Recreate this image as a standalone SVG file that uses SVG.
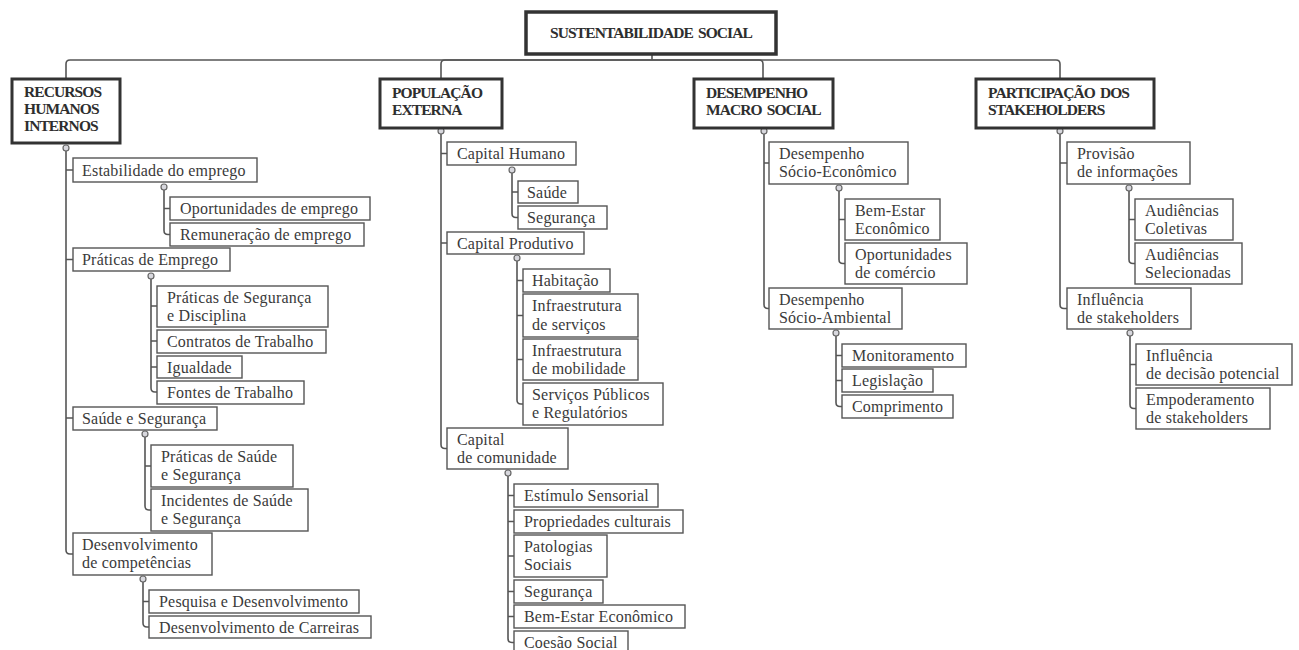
<svg xmlns="http://www.w3.org/2000/svg" width="1299" height="650" viewBox="0 0 1299 650">
  <style>
    .bg { fill: #ffffff; }
    .root { fill: #ffffff; stroke: #333333; stroke-width: 3.5; }
    .cat { fill: #ffffff; stroke: #333333; stroke-width: 3; }
    .box { fill: #ffffff; stroke: #555555; stroke-width: 1.4; }
    .h { font-family: "Liberation Serif", "Times New Roman", serif; font-weight: bold; font-size: 15.5px; letter-spacing: -0.9px; word-spacing: 2px; fill: #2e2e2e; }
    .t { font-family: "Liberation Serif", "Times New Roman", serif; font-size: 16px; letter-spacing: 0.2px; fill: #3a3a3a; }
    .w { fill: none; stroke: #555555; stroke-width: 1.6; }
    .k { fill: #d8d8de; stroke: #666666; stroke-width: 1.2; }
  </style>
  <rect class="bg" x="0" y="0" width="1299" height="650"/>

  <!-- connectors -->
  <g id="connectors">
    <!-- hub to the four branches -->
    <path class="w" d="M652,54 V60"/>
    <path class="w" d="M652,60 H70 Q66,60 66,64 V79"/>
    <path class="w" d="M652,60 H445 Q441,60 441,64 V79"/>
    <path class="w" d="M652,60 H759 Q763,60 763,64 V79"/>
    <path class="w" d="M652,60 H1056 Q1060,60 1060,64 V79"/>

    <!-- Recursos Humanos Internos -->
    <path class="w" d="M66,151 V550 Q66,554 70,554 H73 M66,170 H73 M66,259.5 H73 M66,418 H73"/>
    <path class="w" d="M164,190 V230.5 Q164,234.5 168,234.5 H170 M164,208.5 H170"/>
    <path class="w" d="M151,279 V388 Q151,392 155,392 H157 M151,306 H157 M151,341 H157 M151,367 H157"/>
    <path class="w" d="M145,437 V506 Q145,510 149,510 H151 M145,466 H151"/>
    <path class="w" d="M143,582 V623 Q143,627 147,627 H149 M143,601.5 H149"/>

    <!-- População Externa -->
    <path class="w" d="M441,134 V444.5 Q441,448.5 445,448.5 H447 M441,153.5 H447 M441,243 H447"/>
    <path class="w" d="M512,173 V213.5 Q512,217.5 516,217.5 H518 M512,192 H518"/>
    <path class="w" d="M517,261 V400 Q517,404 521,404 H523 M517,280.5 H523 M517,315.5 H523 M517,359.5 H523"/>
    <path class="w" d="M508,476 V638.5 Q508,642.5 512,642.5 H514 M508,495.5 H514 M508,521.5 H514 M508,556 H514 M508,591.5 H514 M508,616.5 H514"/>

    <!-- Desempenho Macro Social -->
    <path class="w" d="M764,134 V304.5 Q764,308.5 768,308.5 H769 M764,163 H769"/>
    <path class="w" d="M839,191 V259.5 Q839,263.5 843,263.5 H845 M839,219.5 H845"/>
    <path class="w" d="M836,336 V402.5 Q836,406.5 840,406.5 H842 M836,355.5 H842 M836,380.5 H842"/>

    <!-- Participação dos Stakeholders -->
    <path class="w" d="M1060,134 V304.5 Q1060,308.5 1064,308.5 H1067 M1060,163 H1067"/>
    <path class="w" d="M1129,191 V259.5 Q1129,263.5 1133,263.5 H1135 M1129,219.5 H1135"/>
    <path class="w" d="M1130,336 V404.5 Q1130,408.5 1134,408.5 H1136 M1130,364.5 H1136"/>

    <!-- collapse knobs -->
    <circle class="k" cx="66" cy="148" r="3"/>
    <circle class="k" cx="164" cy="187" r="3"/>
    <circle class="k" cx="151" cy="276" r="3"/>
    <circle class="k" cx="145" cy="434" r="3"/>
    <circle class="k" cx="143" cy="579" r="3"/>
    <circle class="k" cx="441" cy="131" r="3"/>
    <circle class="k" cx="512" cy="170" r="3"/>
    <circle class="k" cx="517" cy="258" r="3"/>
    <circle class="k" cx="508" cy="473" r="3"/>
    <circle class="k" cx="764" cy="131" r="3"/>
    <circle class="k" cx="839" cy="188" r="3"/>
    <circle class="k" cx="836" cy="333" r="3"/>
    <circle class="k" cx="1060" cy="131" r="3"/>
    <circle class="k" cx="1129" cy="188" r="3"/>
    <circle class="k" cx="1130" cy="333" r="3"/>
  </g>

  <!-- root -->
  <g id="sustentabilidade-social">
    <rect class="root" x="526" y="12" width="250" height="42"/>
    <text class="h" x="651" y="38" text-anchor="middle">SUSTENTABILIDADE SOCIAL</text>
  </g>

  <!-- branch: Recursos Humanos Internos -->
  <g id="recursos-humanos-internos">
    <rect class="cat" x="12" y="79" width="108" height="64"/>
    <text class="h" x="24" y="97">RECURSOS<tspan x="24" y="114">HUMANOS</tspan><tspan x="24" y="131">INTERNOS</tspan></text>
  </g>
  <g id="estabilidade-do-emprego">
    <rect class="box" x="73" y="158" width="184" height="24"/>
    <text class="t" x="82" y="176">Estabilidade do emprego</text>
  </g>
  <g id="oportunidades-de-emprego">
    <rect class="box" x="170" y="197" width="200" height="23"/>
    <text class="t" x="180" y="214">Oportunidades de emprego</text>
  </g>
  <g id="remuneracao-de-emprego">
    <rect class="box" x="170" y="223" width="194" height="23"/>
    <text class="t" x="180" y="240">Remuneração de emprego</text>
  </g>
  <g id="praticas-de-emprego">
    <rect class="box" x="73" y="248" width="157" height="23"/>
    <text class="t" x="82" y="265">Práticas de Emprego</text>
  </g>
  <g id="praticas-de-seguranca">
    <rect class="box" x="157" y="286" width="171" height="41"/>
    <text class="t" x="167" y="303">Práticas de Segurança<tspan x="167" y="321">e Disciplina</tspan></text>
  </g>
  <g id="contratos-de-trabalho">
    <rect class="box" x="157" y="330" width="169" height="23"/>
    <text class="t" x="167" y="347">Contratos de Trabalho</text>
  </g>
  <g id="igualdade">
    <rect class="box" x="157" y="356" width="85" height="22"/>
    <text class="t" x="167" y="373">Igualdade</text>
  </g>
  <g id="fontes-de-trabalho">
    <rect class="box" x="157" y="381" width="147" height="23"/>
    <text class="t" x="167" y="398">Fontes de Trabalho</text>
  </g>
  <g id="saude-e-seguranca">
    <rect class="box" x="73" y="407" width="144" height="23"/>
    <text class="t" x="82" y="424">Saúde e Segurança</text>
  </g>
  <g id="praticas-de-saude">
    <rect class="box" x="151" y="445" width="142" height="42"/>
    <text class="t" x="161" y="462">Práticas de Saúde<tspan x="161" y="480">e Segurança</tspan></text>
  </g>
  <g id="incidentes-de-saude">
    <rect class="box" x="151" y="489" width="157" height="42"/>
    <text class="t" x="161" y="506">Incidentes de Saúde<tspan x="161" y="524">e Segurança</tspan></text>
  </g>
  <g id="desenvolvimento-de-competencias">
    <rect class="box" x="73" y="533" width="139" height="42"/>
    <text class="t" x="82" y="550">Desenvolvimento<tspan x="82" y="568">de competências</tspan></text>
  </g>
  <g id="pesquisa-e-desenvolvimento">
    <rect class="box" x="149" y="590" width="210" height="23"/>
    <text class="t" x="159" y="607">Pesquisa e Desenvolvimento</text>
  </g>
  <g id="desenvolvimento-de-carreiras">
    <rect class="box" x="149" y="616" width="222" height="22"/>
    <text class="t" x="159" y="633">Desenvolvimento de Carreiras</text>
  </g>

  <!-- branch: População Externa -->
  <g id="populacao-externa">
    <rect class="cat" x="380" y="79" width="122" height="49"/>
    <text class="h" x="392" y="98">POPULAÇÃO<tspan x="392" y="115">EXTERNA</tspan></text>
  </g>
  <g id="capital-humano">
    <rect class="box" x="447" y="142" width="129" height="23"/>
    <text class="t" x="457" y="159">Capital Humano</text>
  </g>
  <g id="saude">
    <rect class="box" x="518" y="181" width="60" height="22"/>
    <text class="t" x="527" y="198">Saúde</text>
  </g>
  <g id="seguranca-1">
    <rect class="box" x="518" y="206" width="89" height="23"/>
    <text class="t" x="527" y="223">Segurança</text>
  </g>
  <g id="capital-produtivo">
    <rect class="box" x="447" y="232" width="137" height="22"/>
    <text class="t" x="457" y="249">Capital Produtivo</text>
  </g>
  <g id="habitacao">
    <rect class="box" x="523" y="269" width="87" height="23"/>
    <text class="t" x="532" y="286">Habitação</text>
  </g>
  <g id="infraestrutura-de-servicos">
    <rect class="box" x="523" y="294" width="115" height="43"/>
    <text class="t" x="532" y="311">Infraestrutura<tspan x="532" y="330">de serviços</tspan></text>
  </g>
  <g id="infraestrutura-de-mobilidade">
    <rect class="box" x="523" y="339" width="115" height="41"/>
    <text class="t" x="532" y="356">Infraestrutura<tspan x="532" y="374">de mobilidade</tspan></text>
  </g>
  <g id="servicos-publicos">
    <rect class="box" x="523" y="383" width="140" height="42"/>
    <text class="t" x="532" y="400">Serviços Públicos<tspan x="532" y="418">e Regulatórios</tspan></text>
  </g>
  <g id="capital-de-comunidade">
    <rect class="box" x="447" y="428" width="121" height="41"/>
    <text class="t" x="457" y="445">Capital<tspan x="457" y="463">de comunidade</tspan></text>
  </g>
  <g id="estimulo-sensorial">
    <rect class="box" x="514" y="484" width="144" height="23"/>
    <text class="t" x="524" y="501">Estímulo Sensorial</text>
  </g>
  <g id="propriedades-culturais">
    <rect class="box" x="514" y="510" width="169" height="23"/>
    <text class="t" x="524" y="527">Propriedades culturais</text>
  </g>
  <g id="patologias-sociais">
    <rect class="box" x="514" y="535" width="93" height="42"/>
    <text class="t" x="524" y="552">Patologias<tspan x="524" y="570">Sociais</tspan></text>
  </g>
  <g id="seguranca-2">
    <rect class="box" x="514" y="580" width="89" height="23"/>
    <text class="t" x="524" y="597">Segurança</text>
  </g>
  <g id="bem-estar-economico-1">
    <rect class="box" x="514" y="605" width="171" height="23"/>
    <text class="t" x="524" y="622">Bem-Estar Econômico</text>
  </g>
  <g id="coesao-social">
    <rect class="box" x="514" y="631" width="114" height="23"/>
    <text class="t" x="524" y="648">Coesão Social</text>
  </g>

  <!-- branch: Desempenho Macro Social -->
  <g id="desempenho-macro-social">
    <rect class="cat" x="694" y="79" width="139" height="49"/>
    <text class="h" x="706" y="98">DESEMPENHO<tspan x="706" y="115">MACRO SOCIAL</tspan></text>
  </g>
  <g id="desempenho-socio-economico">
    <rect class="box" x="769" y="142" width="139" height="42"/>
    <text class="t" x="779" y="159">Desempenho<tspan x="779" y="177">Sócio-Econômico</tspan></text>
  </g>
  <g id="bem-estar-economico-2">
    <rect class="box" x="845" y="199" width="95" height="41"/>
    <text class="t" x="855" y="216">Bem-Estar<tspan x="855" y="234">Econômico</tspan></text>
  </g>
  <g id="oportunidades-de-comercio">
    <rect class="box" x="845" y="243" width="122" height="41"/>
    <text class="t" x="855" y="260">Oportunidades<tspan x="855" y="278">de comércio</tspan></text>
  </g>
  <g id="desempenho-socio-ambiental">
    <rect class="box" x="769" y="288" width="133" height="41"/>
    <text class="t" x="779" y="305">Desempenho<tspan x="779" y="323">Sócio-Ambiental</tspan></text>
  </g>
  <g id="monitoramento">
    <rect class="box" x="842" y="344" width="124" height="23"/>
    <text class="t" x="852" y="361">Monitoramento</text>
  </g>
  <g id="legislacao">
    <rect class="box" x="842" y="369" width="91" height="23"/>
    <text class="t" x="852" y="386">Legislação</text>
  </g>
  <g id="comprimento">
    <rect class="box" x="842" y="395" width="111" height="23"/>
    <text class="t" x="852" y="412">Comprimento</text>
  </g>

  <!-- branch: Participação dos Stakeholders -->
  <g id="participacao-dos-stakeholders">
    <rect class="cat" x="976" y="79" width="178" height="49"/>
    <text class="h" x="988" y="98">PARTICIPAÇÃO DOS<tspan x="988" y="115">STAKEHOLDERS</tspan></text>
  </g>
  <g id="provisao-de-informacoes">
    <rect class="box" x="1067" y="142" width="123" height="42"/>
    <text class="t" x="1077" y="159">Provisão<tspan x="1077" y="177">de informações</tspan></text>
  </g>
  <g id="audiencias-coletivas">
    <rect class="box" x="1135" y="199" width="98" height="41"/>
    <text class="t" x="1145" y="216">Audiências<tspan x="1145" y="234">Coletivas</tspan></text>
  </g>
  <g id="audiencias-selecionadas">
    <rect class="box" x="1135" y="243" width="107" height="41"/>
    <text class="t" x="1145" y="260">Audiências<tspan x="1145" y="278">Selecionadas</tspan></text>
  </g>
  <g id="influencia-de-stakeholders">
    <rect class="box" x="1067" y="288" width="124" height="41"/>
    <text class="t" x="1077" y="305">Influência<tspan x="1077" y="323">de stakeholders</tspan></text>
  </g>
  <g id="influencia-de-decisao-potencial">
    <rect class="box" x="1136" y="344" width="156" height="41"/>
    <text class="t" x="1146" y="361">Influência<tspan x="1146" y="379">de decisão potencial</tspan></text>
  </g>
  <g id="empoderamento-de-stakeholders">
    <rect class="box" x="1136" y="388" width="134" height="41"/>
    <text class="t" x="1146" y="405">Empoderamento<tspan x="1146" y="423">de stakeholders</tspan></text>
  </g>
</svg>
